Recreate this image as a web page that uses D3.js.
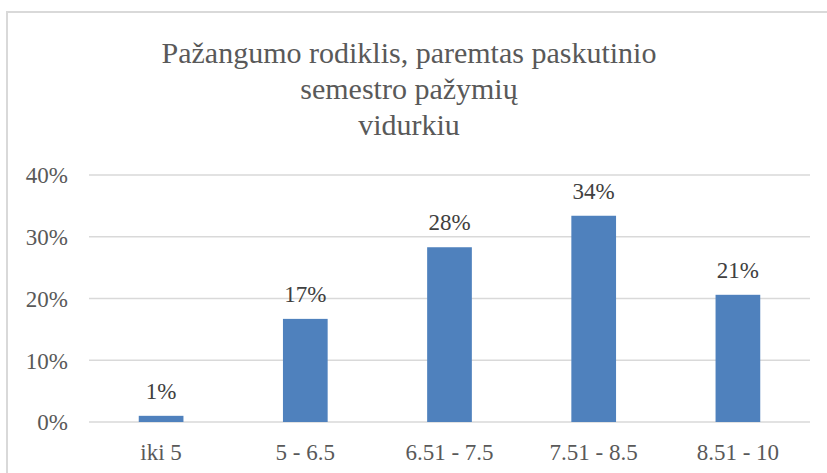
<!DOCTYPE html>
<html>
<head>
<meta charset="utf-8">
<script src="https://cdn.jsdelivr.net/npm/d3@7"></script>
<style>
  body { margin: 0; background: #fff; }
</style>
</head>
<body>
<svg id="chart" width="827" height="473"></svg>
<script>
// chart data
var categories = ["iki 5", "5 - 6.5", "6.51 - 7.5", "7.51 - 8.5", "8.51 - 10"];
var values = [0.010, 0.167, 0.283, 0.334, 0.206];
var valueLabels = ["1%", "17%", "28%", "34%", "21%"];
var yTicks = [0, 0.1, 0.2, 0.3, 0.4];
var titleLines = ["Pažangumo rodiklis, paremtas paskutinio", "semestro pažymių", "vidurkiu"];

var plot = {left: 89, right: 810, top: 175, bottom: 422};
var FONT = "'Liberation Serif'";

var svg = d3.select("#chart");

// chart border (runs off the right and bottom edges)
svg.append("rect")
    .attr("x", 7).attr("y", 12)
    .attr("width", 900).attr("height", 600)
    .attr("fill", "none")
    .attr("stroke", "#d9d9d9")
    .attr("stroke-width", 2);

// title
svg.append("g").selectAll("text")
    .data(titleLines)
    .join("text")
    .attr("text-anchor", "middle")
    .attr("x", 409)
    .attr("y", function (d, i) { return 63 + i * 36; })
    .style("font-family", FONT)
    .style("font-size", "30px")
    .attr("fill", "#595959")
    .text(function (d) { return d; });

var xScale = d3.scaleBand()
    .domain(categories)
    .range([plot.left, plot.right])
    .paddingInner(0.69)
    .paddingOuter(0.345);

var yScale = d3.scaleLinear()
    .domain([0, 0.4])
    .range([plot.bottom, plot.top]);

// gridlines
svg.append("g")
    .selectAll("line")
    .data(yTicks)
    .join("line")
    .attr("x1", plot.left).attr("x2", plot.right)
    .attr("y1", function (d) { return yScale(d); })
    .attr("y2", function (d) { return yScale(d); })
    .attr("stroke", "#d9d9d9")
    .attr("stroke-width", 1.3);

// y axis labels
var gy = svg.append("g")
    .attr("transform", "translate(" + plot.left + ",0)")
    .call(d3.axisLeft(yScale)
        .tickValues(yTicks)
        .tickFormat(d3.format(".0%"))
        .tickSize(0)
        .tickPadding(21));
gy.attr("font-family", null);
gy.select(".domain").remove();
gy.selectAll("text")
    .style("font-family", FONT)
    .style("font-size", "23px")
    .attr("fill", "#595959")
    .attr("dy", "0.34em");

// x axis labels
var gx = svg.append("g")
    .attr("transform", "translate(0," + plot.bottom + ")")
    .call(d3.axisBottom(xScale).tickSize(0).tickPadding(22));
gx.attr("font-family", null);
gx.select(".domain").remove();
gx.selectAll("text")
    .style("font-family", FONT)
    .style("font-size", "23px")
    .attr("fill", "#595959");

// bars
svg.append("g")
    .selectAll("rect")
    .data(values)
    .join("rect")
    .attr("x", function (d, i) { return xScale(categories[i]); })
    .attr("y", function (d) { return yScale(d); })
    .attr("width", xScale.bandwidth())
    .attr("height", function (d) { return yScale(0) - yScale(d); })
    .attr("fill", "#4f81bd");

// value labels
svg.append("g")
    .selectAll("text")
    .data(values)
    .join("text")
    .attr("text-anchor", "middle")
    .attr("x", function (d, i) { return xScale(categories[i]) + xScale.bandwidth() / 2; })
    .attr("y", function (d) { return yScale(d) - 17; })
    .style("font-family", FONT)
    .style("font-size", "23px")
    .attr("fill", "#404040")
    .text(function (d, i) { return valueLabels[i]; });
</script>
</body>
</html>
